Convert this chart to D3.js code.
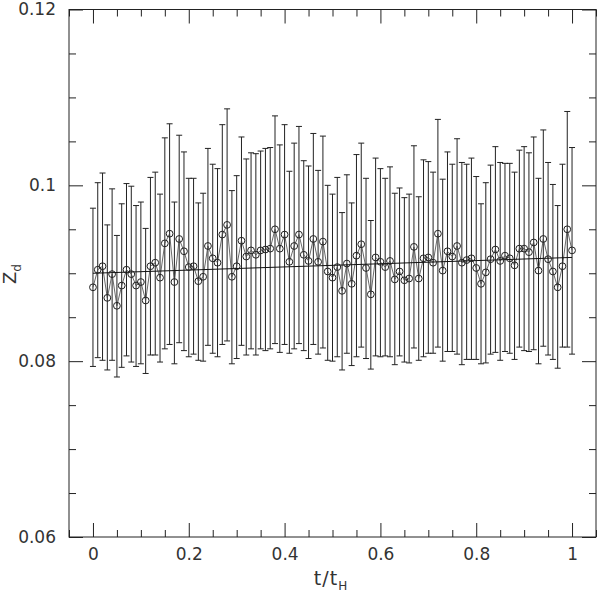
<!DOCTYPE html>
<html>
<head>
<meta charset="utf-8">
<script src="https://cdn.jsdelivr.net/npm/d3@7"></script>
<style>
  body { margin: 0; background: #fff; }
  text { font-family: "DejaVu Sans", sans-serif; fill: #333; }
</style>
</head>
<body>
<div class="chart"></div>
<script>
// data
const t = [0.00,0.01,0.02,0.03,0.04,0.05,0.06,0.07,0.08,0.09,
           0.10,0.11,0.12,0.13,0.14,0.15,0.16,0.17,0.18,0.19,
           0.20,0.21,0.22,0.23,0.24,0.25,0.26,0.27,0.28,0.29,
           0.30,0.31,0.32,0.33,0.34,0.35,0.36,0.37,0.38,0.39,
           0.40,0.41,0.42,0.43,0.44,0.45,0.46,0.47,0.48,0.49,
           0.50,0.51,0.52,0.53,0.54,0.55,0.56,0.57,0.58,0.59,
           0.60,0.61,0.62,0.63,0.64,0.65,0.66,0.67,0.68,0.69,
           0.70,0.71,0.72,0.73,0.74,0.75,0.76,0.77,0.78,0.79,
           0.80,0.81,0.82,0.83,0.84,0.85,0.86,0.87,0.88,0.89,
           0.90,0.91,0.92,0.93,0.94,0.95,0.96,0.97,0.98,0.99,1.00];

const zd = [0.0884,0.0904,0.0908,0.0872,0.0899,0.0863,0.0886,0.0904,0.0899,0.0886,
            0.0890,0.0869,0.0908,0.0912,0.0895,0.0934,0.0945,0.0890,0.0939,0.0925,
            0.0907,0.0908,0.0891,0.0896,0.0931,0.0917,0.0912,0.0944,0.0955,0.0896,
            0.0908,0.0937,0.0919,0.0926,0.0921,0.0926,0.0927,0.0928,0.0950,0.0928,
            0.0944,0.0913,0.0931,0.0944,0.0921,0.0914,0.0939,0.0913,0.0936,0.0902,
            0.0895,0.0907,0.0880,0.0911,0.0888,0.0920,0.0933,0.0906,0.0876,0.0918,
            0.0913,0.0907,0.0914,0.0893,0.0902,0.0892,0.0894,0.0930,0.0894,0.0917,
            0.0918,0.0912,0.0945,0.0903,0.0925,0.0919,0.0931,0.0912,0.0915,0.0917,
            0.0906,0.0888,0.0901,0.0916,0.0927,0.0914,0.0920,0.0917,0.0909,0.0928,
            0.0928,0.0924,0.0935,0.0903,0.0939,0.0916,0.0902,0.0884,0.0908,0.0950,0.0926];

const zdHi = [0.0974,0.1003,0.1014,0.0955,0.0996,0.0943,0.0979,0.1002,0.0999,0.0977,
              0.0981,0.0951,0.1009,0.1015,0.0990,0.1054,0.1070,0.0981,0.1057,0.1038,
              0.1008,0.1008,0.0980,0.0991,0.1042,0.1024,0.1019,0.1069,0.1087,0.0994,
              0.1011,0.1055,0.1030,0.1037,0.1036,0.1039,0.1042,0.1043,0.1079,0.1046,
              0.1069,0.1016,0.1048,0.1067,0.1028,0.1022,0.1059,0.1017,0.1056,0.1000,
              0.0990,0.1009,0.0969,0.1012,0.0980,0.1035,0.1048,0.1008,0.0960,0.1031,
              0.1019,0.1008,0.1021,0.0991,0.0997,0.0986,0.0990,0.1045,0.0987,0.1029,
              0.1027,0.1015,0.1075,0.1007,0.1038,0.1024,0.1053,0.1026,0.1024,0.1031,
              0.1010,0.0979,0.1003,0.1023,0.1044,0.1026,0.1025,0.1025,0.1015,0.1040,
              0.1044,0.1037,0.1055,0.1008,0.1063,0.1026,0.1001,0.0977,0.1024,0.1084,0.1043];

const zdLo = [0.0794,0.0804,0.0801,0.0790,0.0801,0.0782,0.0793,0.0806,0.0799,0.0794,
              0.0797,0.0786,0.0807,0.0807,0.0799,0.0814,0.0819,0.0797,0.0821,0.0812,
              0.0805,0.0808,0.0801,0.0800,0.0818,0.0809,0.0805,0.0819,0.0823,0.0797,
              0.0803,0.0818,0.0807,0.0814,0.0807,0.0814,0.0812,0.0814,0.0820,0.0810,
              0.0819,0.0809,0.0814,0.0820,0.0812,0.0803,0.0819,0.0808,0.0815,0.0801,
              0.0800,0.0805,0.0790,0.0809,0.0795,0.0805,0.0816,0.0803,0.0791,0.0806,
              0.0805,0.0806,0.0805,0.0796,0.0806,0.0799,0.0798,0.0815,0.0801,0.0805,
              0.0809,0.0809,0.0816,0.0800,0.0811,0.0811,0.0808,0.0796,0.0802,0.0802,
              0.0802,0.0797,0.0798,0.0808,0.0810,0.0801,0.0811,0.0809,0.0802,0.0816,
              0.0812,0.0811,0.0813,0.0797,0.0817,0.0807,0.0802,0.0792,0.0816,0.0816,0.0808];

// straight fit line, end points
const fitT = [0, 1];
const fitZ = [0.0900, 0.0918];

const xTicks = [0, 0.2, 0.4, 0.6, 0.8, 1];
const xTickLabels = ["0", "0.2", "0.4", "0.6", "0.8", "1"];
const yTicks = [0.06, 0.08, 0.1, 0.12];
const yTickLabels = ["0.06", "0.08", "0.1", "0.12"];

// layout
const W = 600, H = 598;
const mLeft = 69, mRight = 596, mTop = 9.5, mBottom = 537;

const svg = d3.select(".chart").append("svg").attr("width", W).attr("height", H);

const x = d3.scaleLinear().domain([-0.05, 1.05]).range([mLeft, mRight]);
const y = d3.scaleLinear().domain([0.06, 0.12]).range([mBottom, mTop]);

// minor ticks (no labels)
const xMinor = d3.range(-0.05, 1.0501, 0.05).filter(v => !xTicks.some(m => Math.abs(m - v) < 1e-6));
const yMinor = d3.range(0.06, 0.1201, 0.005).filter(v => !yTicks.some(m => Math.abs(m - v) < 1e-6));

function styleAxis(g) {
    g.select(".domain").remove();
    g.selectAll(".tick line").attr("stroke", "#222").attr("stroke-width", 1);
    g.selectAll(".tick text").attr("font-size", 17).attr("fill", "#333")
        .attr("font-family", "'DejaVu Sans', sans-serif");
}

// bottom
svg.append("g").attr("transform", `translate(0,${mBottom})`)
    .call(d3.axisBottom(x).tickValues(xTicks).tickFormat((d, i) => xTickLabels[i]).tickSize(-14).tickPadding(11))
    .call(styleAxis);
svg.append("g").attr("transform", `translate(0,${mBottom})`)
    .call(d3.axisBottom(x).tickValues(xMinor).tickFormat("").tickSize(-7))
    .call(styleAxis);
// top
svg.append("g").attr("transform", `translate(0,${mTop})`)
    .call(d3.axisTop(x).tickValues(xTicks).tickFormat("").tickSize(-14))
    .call(styleAxis);
svg.append("g").attr("transform", `translate(0,${mTop})`)
    .call(d3.axisTop(x).tickValues(xMinor).tickFormat("").tickSize(-7))
    .call(styleAxis);
// left
svg.append("g").attr("transform", `translate(${mLeft},0)`)
    .call(d3.axisLeft(y).tickValues(yTicks).tickFormat((d, i) => yTickLabels[i]).tickSize(-14).tickPadding(13))
    .call(styleAxis);
svg.append("g").attr("transform", `translate(${mLeft},0)`)
    .call(d3.axisLeft(y).tickValues(yMinor).tickFormat("").tickSize(-7))
    .call(styleAxis);
// right
svg.append("g").attr("transform", `translate(${mRight},0)`)
    .call(d3.axisRight(y).tickValues(yTicks).tickFormat("").tickSize(-14))
    .call(styleAxis);
svg.append("g").attr("transform", `translate(${mRight},0)`)
    .call(d3.axisRight(y).tickValues(yMinor).tickFormat("").tickSize(-7))
    .call(styleAxis);

// frame
svg.append("rect")
    .attr("x", mLeft).attr("y", mTop)
    .attr("width", mRight - mLeft).attr("height", mBottom - mTop)
    .attr("fill", "none").attr("stroke", "#222").attr("stroke-width", 1);

const pts = t.map((d, i) => ({ t: d, z: zd[i], hi: zdHi[i], lo: zdLo[i] }));

// error bars
const bars = svg.append("g").attr("stroke", "#222").attr("stroke-width", 1);
bars.selectAll("line.bar").data(pts).enter().append("line")
    .attr("class", "bar")
    .attr("x1", d => x(d.t)).attr("x2", d => x(d.t))
    .attr("y1", d => y(d.lo)).attr("y2", d => y(d.hi));
bars.selectAll("line.caphi").data(pts).enter().append("line")
    .attr("class", "caphi")
    .attr("x1", d => x(d.t) - 3).attr("x2", d => x(d.t) + 3)
    .attr("y1", d => y(d.hi)).attr("y2", d => y(d.hi));
bars.selectAll("line.caplo").data(pts).enter().append("line")
    .attr("class", "caplo")
    .attr("x1", d => x(d.t) - 3).attr("x2", d => x(d.t) + 3)
    .attr("y1", d => y(d.lo)).attr("y2", d => y(d.lo));

// connecting line
const line = d3.line().x(d => x(d.t)).y(d => y(d.z));
svg.append("path").datum(pts)
    .attr("d", line)
    .attr("fill", "none").attr("stroke", "#444").attr("stroke-width", 0.8);

// fit line
svg.append("line")
    .attr("x1", x(fitT[0])).attr("y1", y(fitZ[0]))
    .attr("x2", x(fitT[1])).attr("y2", y(fitZ[1]))
    .attr("stroke", "#111").attr("stroke-width", 1);

// open circles
svg.append("g").selectAll("circle").data(pts).enter().append("circle")
    .attr("cx", d => x(d.t)).attr("cy", d => y(d.z))
    .attr("r", 3.4)
    .attr("fill", "none").attr("stroke", "#222").attr("stroke-width", 1);

// axis titles
const xl = svg.append("text")
    .attr("x", 331).attr("y", 585)
    .attr("text-anchor", "middle")
    .attr("font-size", 19)
    .attr("letter-spacing", 1);
xl.append("tspan").text("t/t");
xl.append("tspan").text("H").attr("font-size", 12).attr("dy", 5);

const yl = svg.append("text")
    .attr("transform", "translate(16,274) rotate(-90)")
    .attr("text-anchor", "middle")
    .attr("font-size", 18);
yl.append("tspan").text("Z");
yl.append("tspan").text("d").attr("font-size", 12).attr("dy", 5);
</script>
</body>
</html>
